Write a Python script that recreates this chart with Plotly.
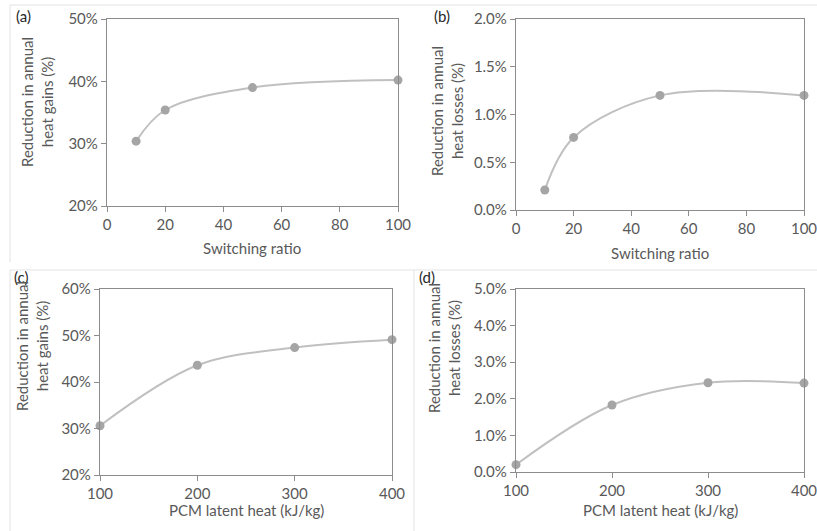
import plotly.graph_objects as go

# ---- data ----
switch_ratio = [10, 20, 50, 100]
gains_switch = [0.304, 0.354, 0.390, 0.402]
losses_switch = [0.0021, 0.0076, 0.0120, 0.0120]

latent_heat = [100, 200, 300, 400]
gains_latent = [0.306, 0.436, 0.474, 0.491]
losses_latent = [0.0020, 0.0183, 0.0244, 0.0243]

panel_labels = ["(a)", "(b)", "(c)", "(d)"]
y_titles = ["Reduction in annual<br>heat gains (%)", "Reduction in annual<br>heat losses (%)",
            "Reduction in annual<br>heat gains (%)", "Reduction in annual<br>heat losses (%)"]
x_titles = ["Switching ratio", "Switching ratio", "PCM latent heat (kJ/kg)", "PCM latent heat (kJ/kg)"]

W, H = 817, 531
FONT = "Lato"
TXT = "#595959"
AX = "#8c8c8c"
LINE = "#c0c0c0"
MARK = "#a5a5a5"

def px(x):
    return x / W

def py(y):
    return 1 - y / H

fig = go.Figure()

panels = [
    dict(x=switch_ratio, y=gains_switch, xd=(107, 398), yd=(19, 206), xr=[0, 100], xdt=20,
         yr=[0.20, 0.50], ydt=0.10, fmt=".0%"),
    dict(x=switch_ratio, y=losses_switch, xd=(516, 804), yd=(19, 210), xr=[0, 100], xdt=20,
         yr=[0.0, 0.02], ydt=0.005, fmt=".1%"),
    dict(x=latent_heat, y=gains_latent, xd=(100, 392), yd=(289, 475), xr=[100, 400], xdt=100,
         yr=[0.20, 0.60], ydt=0.10, fmt=".0%"),
    dict(x=latent_heat, y=losses_latent, xd=(516, 804), yd=(289, 472), xr=[100, 400], xdt=100,
         yr=[0.0, 0.05], ydt=0.01, fmt=".1%"),
]

layout = {}
for i, p in enumerate(panels):
    n = "" if i == 0 else str(i + 1)
    fig.add_trace(go.Scatter(
        x=p["x"], y=p["y"], mode="lines+markers",
        line=dict(color=LINE, width=2, shape="spline", smoothing=1.0),
        marker=dict(color=MARK, size=9),
        xaxis="x" + n, yaxis="y" + n, showlegend=False, cliponaxis=False,
    ))
    layout["xaxis" + n] = dict(
        domain=[px(p["xd"][0]), px(p["xd"][1])], anchor="y" + n, automargin=False,
        range=p["xr"], dtick=p["xdt"], tick0=0, showgrid=False, zeroline=False,
        showline=True, linecolor=AX, linewidth=1.3, mirror=True,
        ticks="outside", ticklen=5, tickcolor=AX, ticklabeloverflow="allow",
        tickfont=dict(family=FONT, size=15, color=TXT),
    )
    layout["yaxis" + n] = dict(
        domain=[py(p["yd"][1]), py(p["yd"][0])], anchor="x" + n, automargin=False,
        range=p["yr"], dtick=p["ydt"], tick0=0, tickformat=p["fmt"],
        showgrid=False, zeroline=False, ticklabeloverflow="allow",
        showline=True, linecolor=AX, linewidth=1.3, mirror=True,
        ticks="outside", ticklen=5, tickcolor=AX,
        tickfont=dict(family=FONT, size=15, color=TXT),
    )

annotations = []
def ann(text, x, y, size, color, angle=0):
    annotations.append(dict(text=text, x=px(x), y=py(y), xref="paper", yref="paper",
                            xanchor="center", yanchor="middle", showarrow=False,
                            textangle=angle, font=dict(family=FONT, size=size, color=color)))

# panel labels
lab_pos = [(23, 16), (442, 16), (21, 277), (427, 277)]
for t, (x, y) in zip(panel_labels, lab_pos):
    ann(t, x, y, 15, "#262626")
# y titles
yt_pos = [(37, 102), (447, 111), (32, 346), (444, 348)]
for t, (x, y) in zip(y_titles, yt_pos):
    ann(t, x, y, 15, TXT, -90)
# x titles
xt_pos = [(252, 248), (660, 253), (247, 510), (660, 510)]
for t, (x, y) in zip(x_titles, xt_pos):
    ann(t, x, y, 15, TXT)

sep = "#e3e3e3"
def hline(x0, x1, y):
    return dict(type="line", xref="paper", yref="paper", x0=px(x0), x1=px(x1), y0=py(y), y1=py(y),
                line=dict(color=sep, width=1))
def vline(x, y0, y1):
    return dict(type="line", xref="paper", yref="paper", x0=px(x), x1=px(x), y0=py(y0), y1=py(y1),
                line=dict(color=sep, width=1))

shapes = [hline(10, 817, 5), vline(10, 5, 262), hline(10, 817, 270), vline(10, 270, 531),
          vline(414, 270, 531)]

fig.update_layout(
    width=W, height=H, margin=dict(l=0, r=0, t=0, b=0, autoexpand=False),
    paper_bgcolor="white", plot_bgcolor="white",
    annotations=annotations, shapes=shapes,
    **layout,
)

fig.write_html("out.html", config={"displayModeBar": False},
               post_script="document.body.style.margin='0';")
